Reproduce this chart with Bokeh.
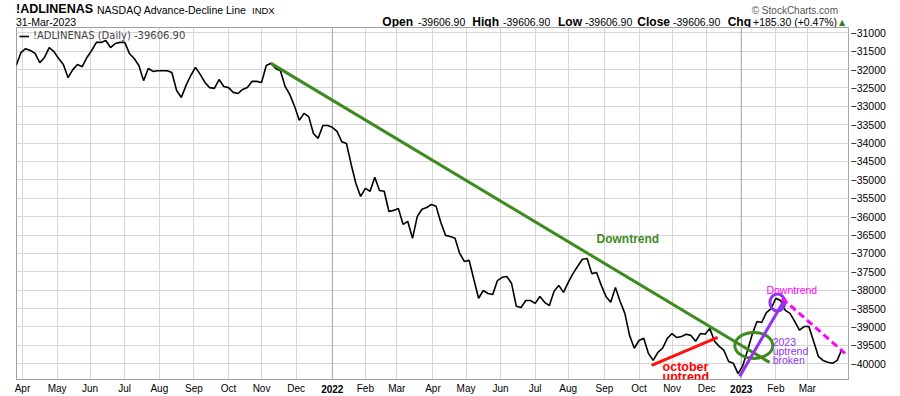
import numpy as np
import pandas as pd
from bokeh.plotting import figure
from bokeh.layouts import column
from bokeh.models import FixedTicker, Label, Span, Range1d, LinearAxis, Div
from bokeh.embed import file_html
from bokeh.resources import INLINE

# ---------------- data ----------------
BASE = "2021-04-01"          # session 0 of the trading-day axis
ad_start = "2021-03-26"      # first plotted session; one reading every 3rd session
ad_values = [
    -31890, -31540, -31430, -31480, -31560, -31810, -31670, -31400, -31510, -31700,
    -31860, -32220, -32000, -31860, -31920, -31670, -31480, -31260, -31260, -31210,
    -31400, -31290, -31260, -31260, -31560, -31700, -31890, -32300, -31970, -32050,
    -32030, -32030, -32030, -32080, -32570, -32760, -32430, -32160, -31940, -32130,
    -32350, -32490, -32510, -32270, -32460, -32490, -32620, -32650, -32540, -32490,
    -32320, -32320, -32350, -31890, -31830, -31970, -32030, -32460, -32680, -33000,
    -33380, -33190, -33280, -33740, -33870, -33520, -33520, -33570, -33680, -33960,
    -34010, -34580, -35100, -35450, -35230, -35310, -34930, -35290, -35310, -35860,
    -35830, -35780, -36210, -36130, -36590, -36000, -35800, -35750, -35670, -35720,
    -36160, -36510, -36540, -36590, -37000, -37220, -37190, -37710, -38220, -38010,
    -38090, -38120, -37740, -37650, -37630, -37820, -38440, -38470, -38280, -38280,
    -38360, -38170, -38330, -38420, -38030, -37870, -38060, -37790, -37550, -37350,
    -37160, -37140, -37550, -37520, -37870, -38170, -38330, -37930, -38310, -38630,
    -39230, -39580, -39370, -39310, -39720, -39910, -39690, -39580, -39310, -39180,
    -39290, -39260, -39200, -39230, -39390, -39180, -39200, -39040, -39390, -39530,
    -39640, -39940, -39990, -40270, -40050, -39640, -39200, -38850, -38880, -38610,
    -38500, -38220, -38280, -38550, -38630, -38850, -39090, -38990, -38990, -39390,
    -39800, -39910, -39960, -39990, -39910, -39606.90,
]

quote_names = ["Open", "High", "Low", "Close"]
quote_values = [-39606.90, -39606.90, -39606.90, -39606.90]
chg_value = 185.30
chg_pct = 0.47
quote_date = "31-Mar-2023"

month_labels = ["Apr", "May", "Jun", "Jul", "Aug", "Sep", "Oct", "Nov", "Dec", "2022",
                "Feb", "Mar", "Apr", "May", "Jun", "Jul", "Aug", "Sep", "Oct", "Nov",
                "Dec", "2023", "Feb", "Mar"]
year_labels = ["2022", "2023"]
y_ticks = list(range(-40000, -30999, 500))

# trend lines / markers drawn by the analyst: (date, value)
downtrend_2021 = [("2021-11-09", -31830), ("2023-01-26", -39965)]
october_uptrend = [("2022-10-13", -40046), ("2022-12-12", -39285)]
uptrend_2023 = [("2022-12-30", -40345), ("2023-02-09", -38224)]
downtrend_2023 = [("2023-02-07", -38224), ("2023-04-04", -39720)]
break_circle_2023 = ("2023-02-02", -38333)
break_ellipse = ("2023-01-12", -39502)

# ---------------- helpers ----------------
def pos(d):
    return int(np.busday_count(BASE, np.datetime64(d, "D")))

dates = pd.bdate_range(ad_start, periods=len(ad_values), freq="3B")
xs = np.busday_count(BASE, dates.values.astype("datetime64[D]")).tolist()

months = pd.date_range("2021-04-01", "2023-03-01", freq="MS").values.astype("datetime64[D]")
first_sessions = np.busday_offset(months, 0, roll="forward")
tick_pos = [int(v) for v in np.busday_count(BASE, first_sessions)]

FONT = "Liberation Sans"
FIG_W = 892
HEADER_H = 26

p = figure(frame_width=832, frame_height=352, title=None,
           x_range=Range1d(-3.8, 525.2), y_range=Range1d(-40430, -30855),
           y_axis_location="right", output_backend="svg", toolbar_location=None,
           min_border_left=16, min_border_right=44, min_border_top=1,
           min_border_bottom=15, margin=0)
p.background_fill_color = "white"
p.border_fill_color = None
p.outline_line_color = "#a0a0a0"

# x axis: months
p.xaxis.ticker = FixedTicker(ticks=tick_pos)
p.xaxis.major_label_overrides = {t: ("" if lab in year_labels else lab)
                                 for t, lab in zip(tick_pos, month_labels)}
for ax in p.xaxis:
    ax.major_tick_out = 0
    ax.major_tick_in = 0
    ax.minor_tick_out = 0
    ax.minor_tick_in = 0
    ax.axis_line_color = "#a0a0a0"
    ax.major_label_standoff = 3
    ax.major_label_text_font = FONT
    ax.major_label_text_font_size = "10px"
    ax.major_label_text_color = "black"

# x axis: bold years, drawn on the same row as the months
year_ticks = [t for t, lab in zip(tick_pos, month_labels) if lab in year_labels]
year_axis = LinearAxis(ticker=FixedTicker(ticks=year_ticks),
                       major_label_overrides={t: lab for t, lab in zip(tick_pos, month_labels)
                                              if lab in year_labels},
                       major_tick_out=0, major_tick_in=0, minor_tick_out=0, minor_tick_in=0,
                       axis_line_color=None, major_tick_line_color=None,
                       minor_tick_line_color=None, major_label_standoff=-12,
                       major_label_text_font=FONT, major_label_text_font_size="10px",
                       major_label_text_font_style="bold", major_label_text_color="black")
p.add_layout(year_axis, "below")

# y axis (right)
p.yaxis.ticker = FixedTicker(ticks=y_ticks)
p.yaxis.major_tick_out = 0
p.yaxis.major_tick_in = 0
p.yaxis.minor_tick_out = 0
p.yaxis.minor_tick_in = 0
p.yaxis.axis_line_color = "#b0b0b0"
p.yaxis.axis_line_dash = "1 1"
p.yaxis.major_label_standoff = 2
p.yaxis.major_label_text_font = FONT
p.yaxis.major_label_text_font_size = "10.5px"
p.yaxis.major_label_text_color = "black"

p.xgrid.grid_line_color = "#d6d6d6"
p.ygrid.grid_line_color = "#d6d6d6"

for t in year_ticks:
    p.add_layout(Span(location=t, dimension="height", line_color="#a8a8a8",
                      line_width=1, level="underlay"))

# main series
last = ad_values[-1]
p.line(xs, ad_values, line_color="black", line_width=1.6,
       legend_label=f"!ADLINENAS (Daily) {last:.2f}")

p.legend.location = "top_left"
p.legend.margin = 0
p.legend.padding = 3
p.legend.spacing = 0
p.legend.glyph_width = 10
p.legend.glyph_height = 10
p.legend.label_height = 10
p.legend.label_standoff = 4
p.legend.label_text_font = "DejaVu Sans"
p.legend.label_text_font_size = "10px"
p.legend.background_fill_alpha = 0
p.legend.border_line_alpha = 0

# trend lines
def seg(pts, **kw):
    p.line([pos(d) for d, _ in pts], [v for _, v in pts], **kw)

GREEN = "#3d8b1e"
RED = "#ff1010"
PURPLE = "#9333ee"
MAGENTA = "#ff00ff"

seg(downtrend_2021, line_color=GREEN, line_width=3)
seg(october_uptrend, line_color=RED, line_width=3)
p.ellipse(x=[pos(break_ellipse[0])], y=[break_ellipse[1]], width=38, height=26,
          width_units="screen", height_units="screen", fill_color=None,
          line_color=GREEN, line_width=3)
seg(uptrend_2023, line_color=PURPLE, line_width=3)
p.ellipse(x=[pos(break_circle_2023[0])], y=[break_circle_2023[1]], width=15, height=17,
          width_units="screen", height_units="screen", fill_color=None,
          line_color=PURPLE, line_width=3)
seg(downtrend_2023, line_color=MAGENTA, line_width=3, line_dash="7 4")

# annotation texts (data coordinates)
def note(text, d, v, size, color, style="normal"):
    p.add_layout(Label(x=pos(d), y=v, text=text, text_font=FONT, text_font_size=size,
                       text_font_style=style, text_color=color, text_align="left",
                       text_baseline="alphabetic"))

note("Downtrend", "2022-08-25", -36620, "12px", GREEN, "bold")
note("october", "2022-10-24", -40100, "12.5px", "#ff0000", "bold")
note("uptrend", "2022-10-24", -40372, "12.5px", "#ff0000", "bold")
note("Downtrend", "2023-01-24", -38007, "10.5px", MAGENTA)
note("2023", "2023-01-30", -39421, "10.5px", PURPLE)
note("uptrend", "2023-01-30", -39666, "10.5px", PURPLE)
note("broken", "2023-01-30", -39911, "10.5px", PURPLE)

# ---------------- header ----------------
def span(text, top, size, left=None, right=None, bold=False, color="black", font=FONT):
    where = f"left:{left}px;" if left is not None else f"right:{FIG_W - right}px;"
    weight = "bold" if bold else "normal"
    return (f'<span style="position:absolute;{where}top:{top}px;font-family:\'{font}\';'
            f'font-size:{size};font-weight:{weight};color:{color};line-height:1;'
            f'white-space:nowrap;">{text}</span>')

parts = [
    span("!ADLINENAS", 3, "12.5px", left=16, bold=True),
    span("NASDAQ Advance-Decline Line", 5, "10.5px", left=97),
    span("INDX", 6, "9.5px", left=252),
    span("&copy; StockCharts.com", 6, "10px", right=838, color="#555555"),
    span(quote_date, 17, "10.5px", left=16),
]
label_right = [413, 499, 582, 670]
value_left = [418, 503, 585, 673]
for name, val, lr, vl in zip(quote_names, quote_values, label_right, value_left):
    parts.append(span(name, 16, "12px", right=lr, bold=True))
    parts.append(span(f"{val:.2f}", 17, "10.5px", left=vl))
parts.append(span("Chg", 16, "12px", right=751, bold=True))
parts.append(span(f"+{chg_value:.2f} (+{chg_pct:.2f}%)", 17, "10.5px", left=753))
parts.append(span("&#9650;", 19, "8px", left=839, color="#2e7d32", font="DejaVu Sans"))

header = Div(text=f'<div style="position:relative;width:{FIG_W}px;height:{HEADER_H}px;">'
                  + "".join(parts) + "</div>",
             width=FIG_W, height=HEADER_H, margin=0)

layout = column(header, p, spacing=0, margin=0)
open("out.html", "w").write(file_html(layout, INLINE))
